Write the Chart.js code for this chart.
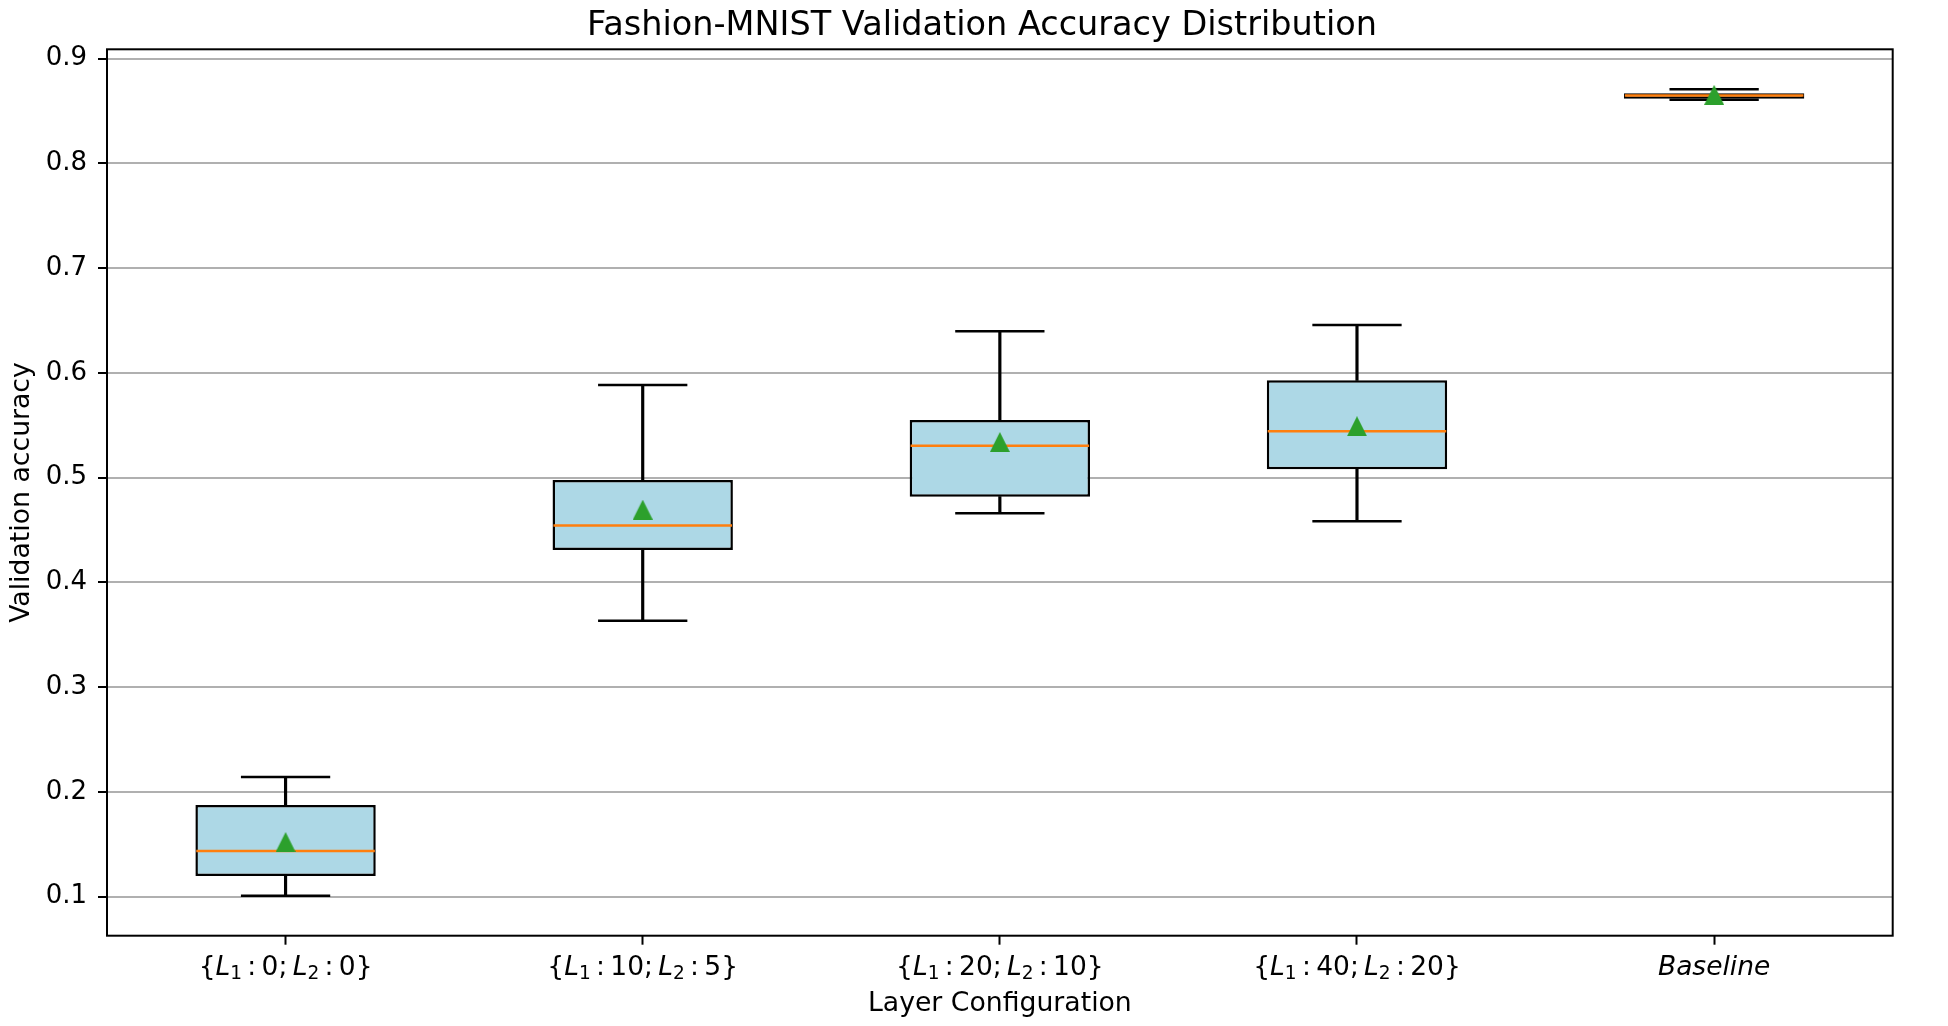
<!DOCTYPE html>
<html>
<head>
<meta charset="utf-8">
<title>Fashion-MNIST Validation Accuracy Distribution</title>
<script src="https://cdn.jsdelivr.net/npm/chart.js@4.4.1/dist/chart.umd.min.js"></script>
<style>
  html, body { margin: 0; padding: 0; background: #fff; overflow: hidden; }
  #wrap { width: 1948px; height: 1026px; }
</style>
</head>
<body>
<div id="wrap"><canvas id="chart"></canvas></div>
<script>
const categories = ["{L1:0;L2:0}", "{L1:10;L2:5}", "{L1:20;L2:10}", "{L1:40;L2:20}", "Baseline"];
const layer1 = [0, 10, 20, 40, null];
const layer2 = [0, 5, 10, 20, null];

const whiskerLow = [0.1010, 0.3635, 0.4660, 0.4584, 0.8609];
const q1 = [0.1198, 0.4310, 0.4819, 0.5080, 0.8618];
const medians = [0.1436, 0.4545, 0.5306, 0.5443, 0.8650];
const q3 = [0.1876, 0.4978, 0.5551, 0.5930, 0.8670];
const whiskerHigh = [0.2143, 0.5885, 0.6398, 0.6458, 0.8708];
const means = [0.1522, 0.4695, 0.5341, 0.5492, 0.8655];

const yTicks = [0.1, 0.2, 0.3, 0.4, 0.5, 0.6, 0.7, 0.8, 0.9];

const FONT = "DejaVu Sans";
const LABEL_SIZE = 26.5;
const TITLE_CENTER = 982; // figure title is a little left of the plot centre
const boxColor = "#add8e6";
const medianColor = "#ff7f0e";
const meanColor = "#2ca02c";

Chart.defaults.font.family = FONT;
Chart.defaults.color = "#000";

// matplotlib style "^" marker
const meanMarker = document.createElement("canvas");
meanMarker.width = 20;
meanMarker.height = 20;
(function () {
  const c = meanMarker.getContext("2d");
  c.fillStyle = meanColor;
  c.beginPath();
  c.moveTo(10, 0);
  c.lineTo(20, 20);
  c.lineTo(0, 20);
  c.closePath();
  c.fill();
})();

function catWidth(chart) {
  const x = chart.scales.x;
  const w = x ? x.width / categories.length : 0;
  return isFinite(w) ? w : 0;
}

function labelParts(i) {
  if (layer1[i] === null) return [{t: categories[i], it: true}];
  return [
    {t: "{"}, {t: "L", it: true}, {t: "1", sub: true}, {gap: 0.2}, {t: ":"}, {gap: 0.2},
    {t: String(layer1[i])}, {t: ";"}, {gap: 0.2},
    {t: "L", it: true}, {t: "2", sub: true}, {gap: 0.2}, {t: ":"}, {gap: 0.2},
    {t: String(layer2[i])}, {t: "}"}
  ];
}

function partFont(p) {
  const size = p.sub ? LABEL_SIZE * 0.7 : LABEL_SIZE;
  return (p.it ? "italic " : "") + size + "px \"" + FONT + "\"";
}

// mathtext-like category labels under the x axis
const tickLabels = {
  id: "tickLabels",
  afterDraw(chart) {
    const ctx = chart.ctx;
    const x = chart.scales.x;
    const base = x.top + 39;
    ctx.save();
    ctx.fillStyle = "#000";
    ctx.textBaseline = "alphabetic";
    ctx.textAlign = "left";
    categories.forEach((c, i) => {
      const parts = labelParts(i);
      let w = 0;
      parts.forEach((p) => {
        if (p.gap) { w += p.gap * LABEL_SIZE; return; }
        ctx.font = partFont(p);
        p.w = ctx.measureText(p.t).width;
        w += p.w;
      });
      let px = x.getPixelForTick(i) - w / 2;
      parts.forEach((p) => {
        if (p.gap) { px += p.gap * LABEL_SIZE; return; }
        ctx.font = partFont(p);
        ctx.fillText(p.t, px, base + (p.sub ? 4 : 0));
        px += p.w;
      });
    });
    ctx.restore();
  }
};

const frame = {
  id: "frame",
  afterLayout(chart) {
    const t = chart.titleBlock;
    if (!t) return;
    const d = TITLE_CENTER - (t.left + t.right) / 2;
    t.left += d;
    t.right += d;
  },
  afterDatasetsDraw(chart) {
    const {ctx, chartArea: a} = chart;
    ctx.save();
    ctx.strokeStyle = "#000";
    ctx.lineWidth = 2;
    ctx.strokeRect(a.left, a.top, a.right - a.left, a.bottom - a.top);
    ctx.restore();
  }
};

const capStyle = {
  type: "line",
  showLine: false,
  pointStyle: "line",
  pointRadius: (ctx) => catWidth(ctx.chart) * 0.125,
  pointBorderColor: "#000",
  pointBorderWidth: 2.5,
  order: 4,
};

const config = {
  type: "bar",
  data: {
    labels: categories,
    datasets: [
      {
        label: "upper whisker",
        data: q3.map((v, i) => [v, whiskerHigh[i]]),
        backgroundColor: "#000",
        borderWidth: 0,
        barThickness: 2.5,
        grouped: false,
        order: 5,
      },
      {
        label: "lower whisker",
        data: whiskerLow.map((v, i) => [v, q1[i]]),
        backgroundColor: "#000",
        borderWidth: 0,
        barThickness: 2.5,
        grouped: false,
        order: 5,
      },
      Object.assign({label: "upper cap", data: whiskerHigh}, capStyle),
      Object.assign({label: "lower cap", data: whiskerLow}, capStyle),
      {
        label: "box",
        data: q1.map((v, i) => [v, q3[i]]),
        backgroundColor: boxColor,
        borderColor: "#000",
        borderWidth: 2.5,
        borderSkipped: false,
        barPercentage: 0.505,
        categoryPercentage: 1,
        grouped: false,
        order: 3,
      },
      {
        label: "median",
        type: "line",
        data: medians,
        showLine: false,
        pointStyle: "line",
        pointRadius: (ctx) => catWidth(ctx.chart) * 0.25,
        pointBorderColor: medianColor,
        pointBorderWidth: 2.5,
        order: 2,
      },
      {
        label: "mean",
        type: "line",
        data: means,
        showLine: false,
        pointStyle: meanMarker,
        pointRadius: 10,
        order: 1,
      },
    ],
  },
  options: {
    responsive: true,
    maintainAspectRatio: false,
    devicePixelRatio: 1,
    animation: false,
    events: [],
    layout: {autoPadding: false, padding: {left: 0, top: 0, right: 55.3, bottom: 0}},
    plugins: {
      legend: {display: false},
      tooltip: {enabled: false},
      title: {
        display: true,
        text: "Fashion-MNIST Validation Accuracy Distribution",
        color: "#000",
        font: {size: 33.5, weight: "normal"},
        padding: {top: 5.9, bottom: 3.2},
      },
    },
    scales: {
      x: {
        type: "category",
        offset: true,
        border: {display: false},
        grid: {
          offset: false,
          drawOnChartArea: false,
          drawTicks: true,
          tickLength: 9,
          tickColor: "#000",
          tickWidth: 2,
        },
        ticks: {display: false},
        title: {
          display: true,
          text: "Layer Configuration",
          color: "#000",
          font: {size: 26.7},
          padding: {top: 0, bottom: 6.3},
        },
        afterFit: (s) => { s.height = 90.3; },
      },
      y: {
        type: "linear",
        min: 0.0628,
        max: 0.909,
        border: {display: false},
        grid: {
          color: "#b0b0b0",
          lineWidth: 2,
          tickLength: 9,
          tickColor: "#000",
          tickWidth: 2,
        },
        ticks: {
          color: "#000",
          font: {size: 26},
          padding: 11,
          callback: (v) => Number(v).toFixed(1),
        },
        afterBuildTicks: (s) => { s.ticks = yTicks.map((v) => ({value: v})); },
        title: {
          display: true,
          text: "Validation accuracy",
          color: "#000",
          font: {size: 26.7},
          padding: {top: 6.5, bottom: 0},
        },
        afterFit: (s) => { s.width = 107; },
      },
    },
  },
  plugins: [tickLabels, frame],
};

window.onload = function () {
  const ctx = document.getElementById("chart").getContext("2d");
  window.chart = new Chart(ctx, config);
};
</script>
</body>
</html>
